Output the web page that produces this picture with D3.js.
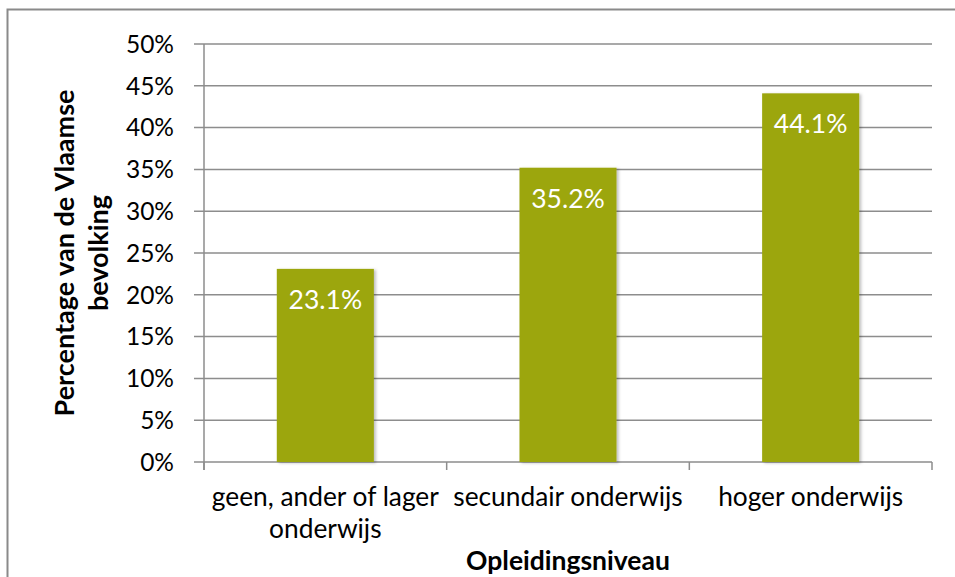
<!DOCTYPE html>
<html>
<head>
<meta charset="utf-8">
<script src="https://cdn.jsdelivr.net/npm/d3@7/dist/d3.min.js"></script>
<style>
  html, body { margin: 0; padding: 0; background: #fff; }
  svg { display: block; }
  text { font-family: Lato, "Open Sans", sans-serif; }
</style>
</head>
<body>
<svg id="chart" width="955" height="577"></svg>
<script>
const categories = [["geen, ander of lager", "onderwijs"], ["secundair onderwijs"], ["hoger onderwijs"]];
const values = [0.231, 0.352, 0.441];
const valueLabels = ["23.1%", "35.2%", "44.1%"];
const yTicks = [0, 0.05, 0.10, 0.15, 0.20, 0.25, 0.30, 0.35, 0.40, 0.45, 0.50];
const yTitle = ["Percentage van de Vlaamse", "bevolking"];
const xTitle = "Opleidingsniveau";

const svg = d3.select("#chart");
const plot = { left: 204, right: 932, top: 44, bottom: 462 };
const gridColor = "#8d8d8d";

const defs = svg.append("defs");
const f = defs.append("filter").attr("id", "shadow").attr("x", "-10%").attr("y", "-10%").attr("width", "130%").attr("height", "130%");
f.append("feDropShadow").attr("dx", 2).attr("dy", 1).attr("stdDeviation", 1.5).attr("flood-color", "#000").attr("flood-opacity", 0.25);

// outer border
svg.append("rect")
  .attr("x", 7.5).attr("y", 9.5)
  .attr("width", 970).attr("height", 600)
  .attr("fill", "none").attr("stroke", "#8a8a8a").attr("stroke-width", 2);

const x = d3.scaleBand().domain(d3.range(categories.length)).range([plot.left, plot.right]).padding(0);
const y = d3.scaleLinear().domain([0, 0.5]).range([plot.bottom, plot.top]);

// gridlines
svg.append("g").selectAll("line").data(yTicks).join("line")
  .attr("x1", plot.left - 10).attr("x2", plot.right)
  .attr("y1", d => y(d)).attr("y2", d => y(d))
  .attr("stroke", gridColor).attr("stroke-width", 1.5);

// y axis line
svg.append("line")
  .attr("x1", plot.left).attr("x2", plot.left)
  .attr("y1", plot.top).attr("y2", plot.bottom + 8)
  .attr("stroke", gridColor).attr("stroke-width", 1.5);

// x category ticks
const xTickPos = d3.range(categories.length + 1).map(i => i < categories.length ? x(i) : x(categories.length - 1) + x.bandwidth());
svg.append("g").selectAll("line").data(xTickPos).join("line")
  .attr("x1", d => d).attr("x2", d => d)
  .attr("y1", plot.bottom).attr("y2", plot.bottom + 8)
  .attr("stroke", gridColor).attr("stroke-width", 1.5);

// y tick labels
svg.append("g").selectAll("text").data(yTicks).join("text")
  .attr("x", 174).attr("y", d => y(d))
  .attr("dy", "0.36em")
  .attr("text-anchor", "end")
  .attr("font-size", 24.5)
  .attr("fill", "#000")
  .text(d => d3.format(".0%")(d));

// bars
const barW = x.bandwidth() * 0.4;
svg.append("g").selectAll("rect").data(values).join("rect")
  .attr("x", (d, i) => x(i) + (x.bandwidth() - barW) / 2)
  .attr("y", d => y(d))
  .attr("width", barW)
  .attr("height", d => y(0) - y(d))
  .attr("fill", "#9ca60e")
  .attr("filter", "url(#shadow)");

// value labels
svg.append("g").selectAll("text").data(values).join("text")
  .attr("x", (d, i) => x(i) + x.bandwidth() / 2)
  .attr("y", d => y(d) + 40)
  .attr("text-anchor", "middle")
  .attr("font-size", 26.5)
  .attr("fill", "#fff")
  .text((d, i) => valueLabels[i]);

// category labels
const cat = svg.append("g").selectAll("text").data(categories).join("text")
  .attr("x", (d, i) => x(i) + x.bandwidth() / 2)
  .attr("y", 506)
  .attr("text-anchor", "middle")
  .attr("font-size", 26.3)
  .attr("fill", "#000");
cat.selectAll("tspan").data(d => d).join("tspan")
  .attr("x", function() { return d3.select(this.parentNode).attr("x"); })
  .attr("dy", (d, i) => i === 0 ? 0 : 32)
  .text(d => d);

// x title
svg.append("text")
  .attr("x", (plot.left + plot.right) / 2)
  .attr("y", 570)
  .attr("text-anchor", "middle")
  .attr("font-size", 26.5)
  .attr("font-weight", "bold")
  .attr("fill", "#000")
  .text(xTitle);

// y title
const yt = svg.append("text")
  .attr("transform", `translate(74, ${(plot.top + plot.bottom) / 2}) rotate(-90)`)
  .attr("text-anchor", "middle")
  .attr("font-size", 27)
  .attr("font-weight", "bold")
  .attr("fill", "#000");
yt.selectAll("tspan").data(yTitle).join("tspan")
  .attr("x", 0)
  .attr("dy", (d, i) => i === 0 ? 0 : 34)
  .text(d => d);
</script>
</body>
</html>
